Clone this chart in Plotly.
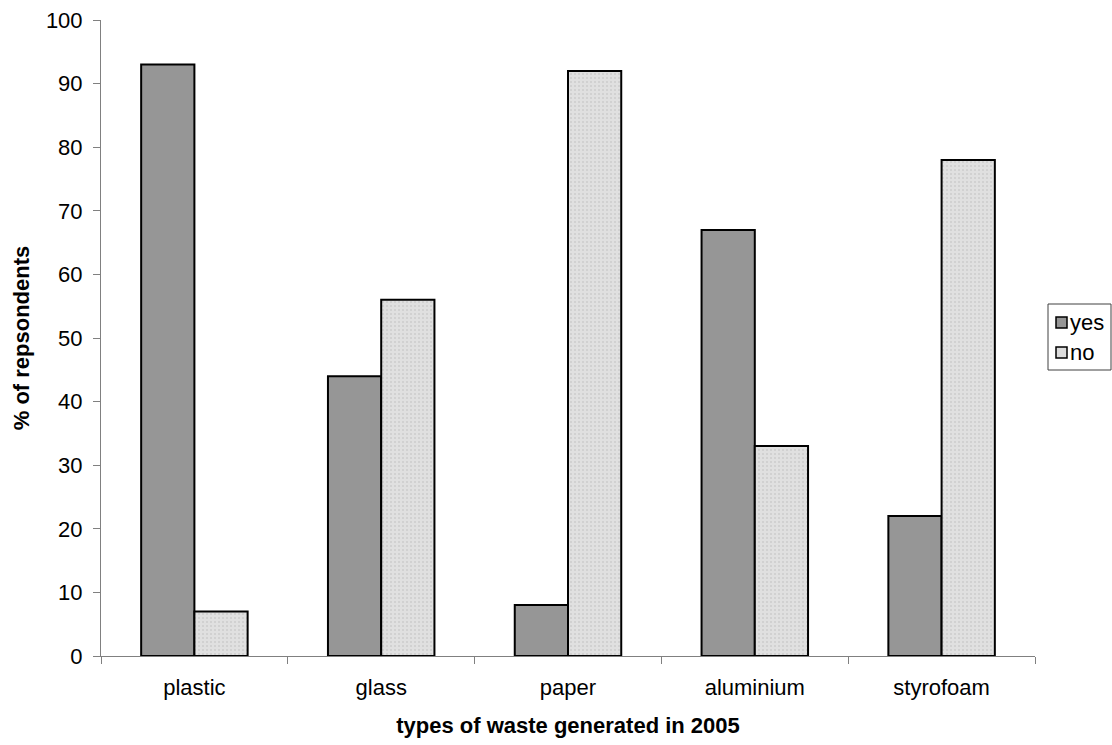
import plotly.graph_objects as go

categories = ["plastic", "glass", "paper", "aluminium", "styrofoam"]
yes_values = [93, 44, 8, 67, 22]
no_values = [7, 56, 92, 33, 78]
series_names = ["yes", "no"]

YES_COLOR = "#969696"
NO_COLOR = "#dcdcdc"

W, H = 1112, 745
M_L, M_R, M_T, M_B = 101, 77, 20, 89
font_family = "Liberation Sans, Arial, sans-serif"

fig = go.Figure()
fig.add_trace(go.Bar(
    name=series_names[0], x=categories, y=yes_values,
    marker=dict(color=YES_COLOR, line=dict(color="black", width=2)),
))
fig.add_trace(go.Bar(
    name=series_names[1], x=categories, y=no_values,
    marker=dict(color=NO_COLOR, line=dict(color="black", width=2),
                pattern=dict(shape=".", fgcolor="#b8b8b8", bgcolor="#e0e0e0",
                             size=4, solidity=0.2)),
))


# Pixel -> paper coordinate helpers for the boxed legend on the right
def px_x(px):
    return (px - M_L) / (W - M_L - M_R)


def px_y(py):
    return (H - M_B - py) / (H - M_T - M_B)


shapes = [
    dict(type="rect", xref="paper", yref="paper",
         x0=px_x(1048), x1=px_x(1111), y0=px_y(370), y1=px_y(304),
         line=dict(color="#404040", width=1), fillcolor="white", layer="above"),
]
annotations = []
legend_rows = [(series_names[0], YES_COLOR, 317), (series_names[1], NO_COLOR, 347)]
for name, color, top in legend_rows:
    shapes.append(dict(type="rect", xref="paper", yref="paper",
                       x0=px_x(1056), x1=px_x(1067), y0=px_y(top + 11), y1=px_y(top),
                       line=dict(color="black", width=1.5), fillcolor=color,
                       layer="above"))
    annotations.append(dict(xref="paper", yref="paper", x=px_x(1068),
                            y=px_y(top + 5.5), text=name, showarrow=False,
                            xanchor="left", yanchor="middle",
                            font=dict(size=22, color="black")))

fig.update_layout(
    width=W, height=H,
    margin=dict(l=M_L, r=M_R, t=M_T, b=M_B, autoexpand=False),
    plot_bgcolor="white", paper_bgcolor="white",
    barmode="group", bargap=0.43, bargroupgap=0,
    font=dict(family=font_family, size=22, color="black"),
    showlegend=False,
    shapes=shapes, annotations=annotations,
    xaxis=dict(
        title=dict(text="<b>types of waste generated in 2005</b>", standoff=18,
                   font=dict(size=22)),
        tickson="boundaries", ticks="outside", ticklen=7, tickcolor="#808080",
        ticklabelstandoff=12,
        showline=True, linecolor="#808080", linewidth=1,
        showgrid=False, tickfont=dict(size=22),
    ),
    yaxis=dict(
        title=dict(text="<b>% of repsondents</b>", standoff=10, font=dict(size=22)),
        range=[0, 100], dtick=10, ticks="outside", ticklen=7, tickcolor="#808080",
        ticklabelstandoff=6,
        showline=True, linecolor="#808080", linewidth=1,
        showgrid=False, zeroline=False, tickfont=dict(size=22),
    ),
)

fig.write_html("out.html")
